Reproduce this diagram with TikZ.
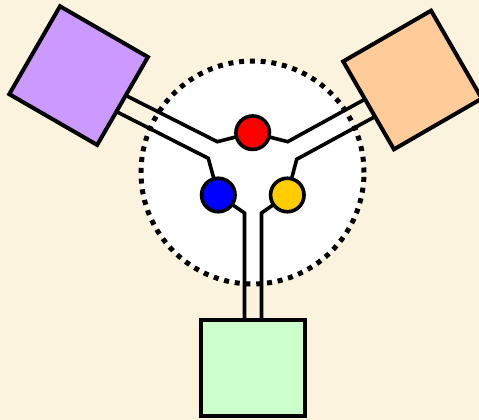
\documentclass[tikz,border=0pt]{standalone}
\usetikzlibrary{shapes.geometric}
\definecolor{bgcol}{RGB}{252,243,222}
\definecolor{purplebox}{RGB}{204,153,255}
\definecolor{orangebox}{RGB}{255,204,153}
\definecolor{greenbox}{RGB}{204,255,204}
\definecolor{yellowdot}{RGB}{255,204,0}
\tikzset{
  boxstyle/.style={draw=black, line width=4pt, inner sep=0pt, minimum size=101.5pt},
  valve/.style={circle, draw=black, line width=3.6pt, inner sep=0pt, minimum size=33.5pt},
  wall/.style={draw=black, line width=3.6pt},
  ring/.style={circle, fill=white, draw=black, line width=5pt, dash pattern=on 5pt off 5.8pt, inner sep=0pt, minimum size=223pt}
}
\begin{document}
\begin{tikzpicture}[x=1pt, y=-1pt]
\fill[bgcol] (0,0) rectangle (479,420);
\useasboundingbox (0,0) rectangle (479,420);
\node[ring] (ring) at (252.5,172.5) {};
% wall points
\coordinate (pu0) at (101.5,83.2);
\coordinate (pu1) at (217.3,141.7);
\coordinate (pl0) at (93.2,99.8);
\coordinate (pl1) at (208.3,158.3);
\coordinate (ou0) at (393,83.8);
\coordinate (ou1) at (287.7,141.7);
\coordinate (ol0) at (404.6,100.5);
\coordinate (ol1) at (296.7,159.3);
\coordinate (bl0) at (244.5,340);
\coordinate (bl1) at (244.5,213);
\coordinate (br0) at (261.5,340);
\coordinate (br1) at (261.5,213);
\coordinate (rc) at (252.7,132.7);
\coordinate (bc) at (218.3,195);
\coordinate (yc) at (287.3,195);
\draw[wall] (pu0) -- (pu1) -- (rc);
\draw[wall] (pl0) -- (pl1) -- (bc);
\draw[wall] (ou0) -- (ou1) -- (rc);
\draw[wall] (ol0) -- (ol1) -- (yc);
\draw[wall] (bl0) -- (bl1) -- (bc);
\draw[wall] (br0) -- (br1) -- (yc);
\node[valve, fill=red] (red) at (rc) {};
\node[valve, fill=blue] (blue) at (bc) {};
\node[valve, fill=yellowdot] (yellow) at (yc) {};
\node[boxstyle, fill=purplebox, rotate=-30] (P) at (78.6,75.6) {};
\node[boxstyle, fill=orangebox, rotate=30] (O) at (412.5,80) {};
\node[boxstyle, fill=greenbox, minimum width=103.5pt, minimum height=96pt] (G) at (253,368.3) {};
\end{tikzpicture}
\end{document}
